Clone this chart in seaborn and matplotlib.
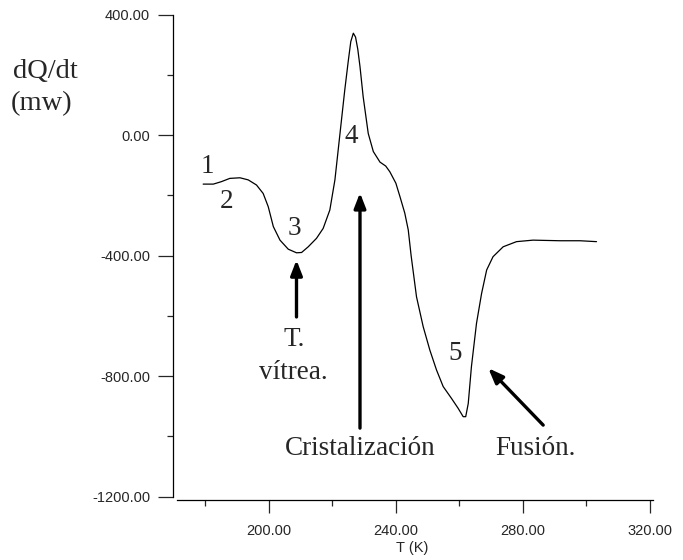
import numpy as np
import pandas as pd
import matplotlib
matplotlib.use("Agg")
import matplotlib.pyplot as plt
from matplotlib.ticker import MultipleLocator, FormatStrFormatter
import seaborn as sns

# DSC trace: temperature (K) and heat flow (mW)
temperature = [179.3, 182.5, 185.0, 187.7, 190.9, 193.5, 196.1, 198.2, 199.8, 201.4,
               203.5, 206.1, 208.7, 210.3, 212.4, 215.0, 217.1, 219.2, 220.8, 222.4,
               223.9, 225.0, 225.8, 226.6, 227.3, 228.0, 228.7, 229.7, 231.3, 232.9,
               235.0, 236.8, 238.1, 240.0, 241.3, 242.8, 243.9, 244.8, 246.5, 248.6,
               250.7, 252.8, 254.9, 257.5, 259.6, 261.2, 262.0, 262.8, 263.8, 265.4,
               267.0, 268.6, 270.6, 273.8, 278.0, 283.2, 291.7, 298.0, 303.2]
heat_flow = [-163, -163, -155, -144, -142, -149, -166, -194, -238, -304,
             -349, -379, -391, -390, -371, -343, -310, -249, -149, 5,
             149, 245, 310, 338, 325, 285, 227, 127, 5, -55,
             -90, -103, -122, -160, -205, -259, -315, -400, -537, -636,
             -714, -780, -835, -874, -907, -935, -935, -891, -769, -625,
             -526, -448, -404, -371, -354, -349, -351, -351, -354]

# Stage markers along the curve
stage_labels = ["1", "2", "3", "4", "5"]
stage_T = [180.7, 186.7, 208.0, 226.0, 258.6]
stage_Q = [-105, -221, -310, -6, -725]

df = pd.DataFrame({"T": temperature, "Q": heat_flow})

sns.set_style("ticks")
plt.rcParams["font.family"] = ["Liberation Sans", "DejaVu Sans"]

fig = plt.figure(figsize=(6.83, 5.60), dpi=100)
ax = fig.add_axes([173 / 683, 1 - 500 / 560, (656.2 - 173) / 683, 487 / 560])

sns.lineplot(data=df, x="T", y="Q", ax=ax, color="black", linewidth=0.9,
             sort=False, estimator=None)
for ln in ax.lines:
    ln.set_solid_joinstyle("round")

ax.set_xlim(169.8, 322)
ax.set_ylim(-1211.6, 405)
ax.spines["top"].set_visible(False)
ax.spines["right"].set_visible(False)
ax.spines["left"].set_bounds(-1200, 400)
ax.spines["bottom"].set_bounds(171.2, 321)
for s in ("left", "bottom"):
    ax.spines[s].set_linewidth(0.9)
    ax.spines[s].set_color("black")

ax.xaxis.set_major_locator(MultipleLocator(40))
ax.xaxis.set_minor_locator(MultipleLocator(20))
ax.yaxis.set_major_locator(MultipleLocator(400))
ax.yaxis.set_minor_locator(MultipleLocator(200))
ax.xaxis.set_major_formatter(FormatStrFormatter("%.2f"))
ax.yaxis.set_major_formatter(FormatStrFormatter("%.2f"))
ax.set_xticks([200, 240, 280, 320])
ax.tick_params(axis="x", which="major", direction="out", length=9.5, width=0.9,
               labelsize=10.5, pad=8)
ax.tick_params(axis="x", which="minor", direction="out", length=4.5, width=0.9)
ax.tick_params(axis="y", which="major", direction="out", length=11, width=0.9,
               labelsize=10.5, pad=5.5)
ax.tick_params(axis="y", which="minor", direction="out", length=4.5, width=0.9)
ax.set_xlabel("")
ax.set_ylabel("")

serif = ["Liberation Serif", "DejaVu Serif"]
fs = 19.5

for lab, t, q in zip(stage_labels, stage_T, stage_Q):
    ax.text(t, q, lab, family=serif, fontsize=fs, ha="center", va="center")

ax.text(207.9, -680, "T.", family=serif, fontsize=fs, ha="center", va="center")
ax.text(207.7, -789, "vítrea.", family=serif, fontsize=fs, ha="center", va="center")
ax.text(228.8, -1042, "Cristalización", family=serif, fontsize=fs, ha="center", va="center")
ax.text(284.1, -1042, "Fusión.", family=serif, fontsize=fs, ha="center", va="center")

arrow_style = dict(arrowstyle="-|>,head_length=0.9,head_width=0.35", color="black",
                   lw=2.4, shrinkA=0, shrinkB=0)
ax.annotate("", xy=(208.7, -415), xytext=(208.7, -604), arrowprops=arrow_style)
ax.annotate("", xy=(228.7, -192), xytext=(228.7, -973), arrowprops=arrow_style)
ax.annotate("", xy=(269.1, -774), xytext=(286.4, -963), arrowprops=arrow_style)

fig.text(45 / 683, 1 - 72 / 560, "dQ/dt", family=serif, fontsize=20.5, ha="center", va="center")
fig.text(42 / 683, 1 - 104 / 560, "(mw)", family=serif, fontsize=20.5, ha="center", va="center")
fig.text(411.7 / 683, 1 - 548 / 560, "T (K)", fontsize=10.5, ha="center", va="center")

fig.savefig("out.png", dpi=100, facecolor="white")
